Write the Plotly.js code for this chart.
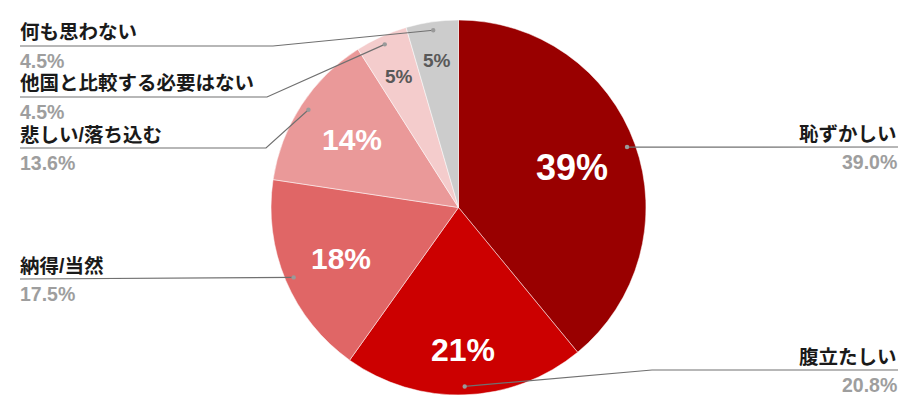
<!DOCTYPE html>
<html>
<head>
<meta charset="utf-8">
<script src="https://cdn.plot.ly/plotly-3.0.1.min.js"></script>
<style>html,body{margin:0;padding:0;background:#fff;}#chart{width:918px;height:417px;}</style>
</head>
<body>
<div id="chart"></div>
<script>
// ---- data ----
const labels = ['恥ずかしい', '腹立たしい', '納得/当然', '悲しい/落ち込む', '他国と比較する必要はない', '何も思わない'];
const values = [39.0, 20.8, 17.5, 13.6, 4.5, 4.5];

// ---- style ----
const sliceColors = ['#990000', '#cc0000', '#e06666', '#ea9999', '#f4cccc', '#cccccc'];
const insideTextColors = ['#ffffff', '#ffffff', '#ffffff', '#ffffff', '#595959', '#595959'];
const insideTextSizes = [36, 32, 30, 30, 19, 19];
const insideTextRadius = [0.645, 0.755, 0.68, 0.675, 0.775, 0.795];
const FONT = 'Liberation Sans, Arial, "Noto Sans CJK JP", sans-serif';

// outside label layout (pixel positions of callouts)
const callouts = [
  {side: 'right', elbow: null, endX: 898, lineY: 147},
  {side: 'right', elbow: [652, 370], endX: 898, lineY: 370},
  {side: 'left', elbow: null, endX: 20, lineY: 279},
  {side: 'left', elbow: [266, 148], endX: 20, lineY: 148},
  {side: 'left', elbow: [267, 97], endX: 20, lineY: 97},
  {side: 'left', elbow: [273, 46], endX: 20, lineY: 46}
];

const W = 918, H = 417;
const dom = {x: [0.2952, 0.7037], y: [0.0528, 0.952]};
const R = Math.min(W * (dom.x[1] - dom.x[0]), H * (dom.y[1] - dom.y[0])) / 2;
const cx = W * (dom.x[0] + dom.x[1]) / 2;
const cy = H * (1 - (dom.y[0] + dom.y[1]) / 2);
const px = x => x / W;
const py = y => 1 - y / H;

const total = values.reduce((a, b) => a + b, 0);
const shapes = [];
const annotations = [];
let cum = 0;
values.forEach((v, i) => {
  const th = 2 * Math.PI * (cum + v / 2) / total;
  cum += v;
  // percentage inside the slice
  const tr = insideTextRadius[i] * R;
  annotations.push({xref: 'paper', yref: 'paper',
    x: px(cx + tr * Math.sin(th)), y: py(cy - tr * Math.cos(th) + 1),
    xanchor: 'center', yanchor: 'middle', showarrow: false,
    text: '<b>' + Math.round(v / total * 100) + '%</b>',
    font: {family: FONT, size: insideTextSizes[i], color: insideTextColors[i]}});
  // callout
  const dx = cx + 0.955 * R * Math.sin(th);
  const dy = cy - 0.955 * R * Math.cos(th);
  const c = callouts[i];
  let path = `M${px(dx)},${py(dy)}`;
  if (c.elbow) path += ` L${px(c.elbow[0])},${py(c.elbow[1])}`;
  path += ` L${px(c.endX)},${py(c.lineY)}`;
  shapes.push({type: 'path', xref: 'paper', yref: 'paper', path: path,
    line: {color: '#707070', width: 1.2}});
  const r = 2.2;
  shapes.push({type: 'circle', xref: 'paper', yref: 'paper',
    x0: px(dx - r), x1: px(dx + r), y0: py(dy + r), y1: py(dy - r),
    fillcolor: '#9a9a9a', line: {width: 0}});
  const anchor = c.side === 'right' ? 'right' : 'left';
  const tx = c.side === 'right' ? px(c.endX + 1) : px(c.endX - 2);
  annotations.push({xref: 'paper', yref: 'paper', x: tx, y: py(c.lineY - 13.5),
    xanchor: anchor, yanchor: 'middle', showarrow: false, text: '<b>' + labels[i] + '</b>',
    font: {family: FONT, size: 19.5, color: '#1a1a1a'}});
  annotations.push({xref: 'paper', yref: 'paper', x: tx, y: py(c.lineY + 15),
    xanchor: anchor, yanchor: 'middle', showarrow: false, text: '<b>' + v.toFixed(1) + '%</b>',
    font: {family: FONT, size: 19.5, color: '#9e9e9e'}});
});

const trace = {
  type: 'pie',
  labels: labels,
  values: values,
  sort: false,
  direction: 'clockwise',
  rotation: 0,
  domain: dom,
  marker: {colors: sliceColors, line: {color: '#ffffff', width: 0.5}},
  textinfo: 'none',
  hoverinfo: 'label+percent',
  showlegend: false
};

Plotly.newPlot('chart', [trace], {
  width: W, height: H,
  margin: {l: 0, r: 0, t: 0, b: 0},
  paper_bgcolor: '#ffffff',
  showlegend: false,
  shapes: shapes,
  annotations: annotations
}, {displayModeBar: false, staticPlot: true});
</script>
</body>
</html>
